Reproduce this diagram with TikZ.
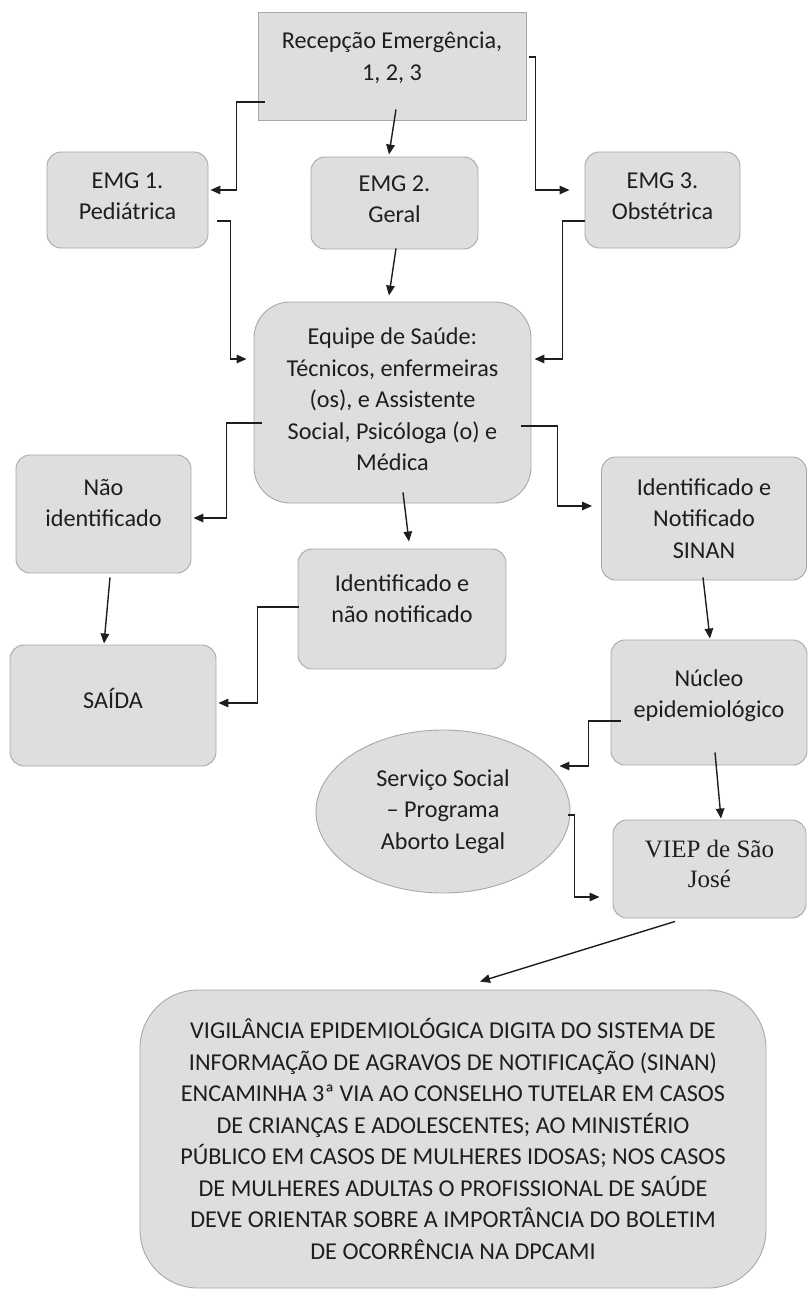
\documentclass[tikz,border=0pt]{standalone}
\usepackage{fontspec}
\setmainfont{Carlito}
\newfontfamily\viepfont{Liberation Serif}
\usepackage{tikz}
\usetikzlibrary{shapes.geometric, arrows.meta, positioning, calc}
\definecolor{boxfill}{HTML}{DEDEDE}
\definecolor{boxline}{HTML}{A8A8A8}
\definecolor{inkdark}{HTML}{1E1E1E}

\begin{document}
\begin{tikzpicture}[x=1pt, y=-1pt,
    flowbox/.style={rectangle, rounded corners=14pt, draw=boxline, fill=boxfill, line width=0.9pt,
                    align=center, text=inkdark, font=\fontsize{24.2}{31.5}\selectfont, inner sep=2pt},
    lift/.style={text depth=#1},
    flowarrow/.style={-{Triangle[length=10pt, width=8.5pt]}, line width=1.4pt, color=inkdark}]
  \useasboundingbox (0,0) rectangle (808,1298);

  % ===== Top: reception and the three emergency rooms =====
  \node[flowbox, rounded corners=0pt, lift=20pt, minimum width=268pt, minimum height=108pt] (rec) at (392,66)
        {Recepção Emergência,\\1, 2, 3};
  \node[flowbox, lift=8pt, minimum width=161pt, minimum height=96pt] (emg1) at (127.5,200) {EMG 1.\\Pediátrica};
  \node[flowbox, lift=8pt, minimum width=167pt, minimum height=92pt] (emg2) at (394.5,203) {EMG 2.\\Geral};
  \node[flowbox, lift=8pt, minimum width=155pt, minimum height=96pt] (emg3) at (662.5,200) {EMG 3.\\Obstétrica};

  % ===== Middle: health team and outcomes =====
  \node[flowbox, rounded corners=36pt, lift=6pt, minimum width=277pt, minimum height=201pt] (equipe) at (392.5,402.5)
        {Equipe de Saúde:\\Técnicos, enfermeiras\\(os), e Assistente\\Social, Psicóloga (o) e\\Médica};
  \node[flowbox, lift=22pt, minimum width=175pt, minimum height=118pt] (naoid) at (103.5,514) {Não\\identificado};
  \node[flowbox, lift=21pt, minimum width=208pt, minimum height=120pt] (idnao) at (402,609) {Identificado e\\não notificado};
  \node[flowbox, minimum width=205pt, minimum height=123pt] (idnot) at (704,518.5)
        {Identificado e\\Notificado\\SINAN};
  \node[flowbox, lift=14pt, minimum width=206pt, minimum height=121pt] (saida) at (113,705.5) {SAÍDA};
  \node[flowbox, lift=18pt, minimum width=196pt, minimum height=125pt] (nucleo) at (709,702.5) {Núcleo\\epidemiológico};

  % ===== Lower right: social service and VIEP =====
  \node[flowbox, ellipse, minimum width=254pt, minimum height=163pt] (servico) at (443,811.5)
        {Serviço Social\\– Programa\\Aborto Legal};
  \node[flowbox, font=\viepfont\fontsize{25}{30}\selectfont, lift=10pt, minimum width=193pt, minimum height=98pt] (viep)
        at (709.5,869) {VIEP de São\\José};

  % ===== Bottom: surveillance note =====
  \node[flowbox, rounded corners=58pt, minimum width=626pt, minimum height=298pt] (vigilancia) at (453,1139)
        {VIGILÂNCIA EPIDEMIOLÓGICA DIGITA DO SISTEMA DE\\
         INFORMAÇÃO DE AGRAVOS DE NOTIFICAÇÃO (SINAN)\\
         ENCAMINHA 3ª VIA AO CONSELHO TUTELAR EM CASOS\\
         DE CRIANÇAS E ADOLESCENTES; AO MINISTÉRIO\\
         PÚBLICO EM CASOS DE MULHERES IDOSAS; NOS CASOS\\
         DE MULHERES ADULTAS O PROFISSIONAL DE SAÚDE\\
         DEVE ORIENTAR SOBRE A IMPORTÂNCIA DO BOLETIM\\
         DE OCORRÊNCIA NA DPCAMI};

  % ===== Connectors =====
  \draw[flowarrow] ([shift={(7,36)}]rec.west) -- ++(-28,0) |- ([shift={(2,-10)}]emg1.east);
  \draw[flowarrow] ([shift={(4,-11)}]rec.south) -- ([shift={(-5.5,-2)}]emg2.north);
  \draw[flowarrow] ([shift={(3,-9)}]rec.east) -- ++(6,0) |- ([shift={(-15,-10)}]emg3.west);

  \draw[flowarrow] ([shift={(9,21)}]emg1.east) -- ++(13,0) |- ([shift={(-7,-43.5)}]equipe.west);
  \draw[flowarrow] ([shift={(1.5,-1)}]emg2.south) -- ([shift={(-3.5,-6)}]equipe.north);
  \draw[flowarrow] ([shift={(0,21)}]emg3.west) -- ++(-22,0) |- ([shift={(3,-43.5)}]equipe.east);

  \draw[flowarrow] ([shift={(8,20.5)}]equipe.west) -- ++(-35,0) |- ([shift={(2,4)}]naoid.east);
  \draw[flowarrow] ([shift={(10.5,-11)}]equipe.south) -- ([shift={(7,-7)}]idnao.north);
  \draw[flowarrow] ([shift={(-10,23.5)}]equipe.east) -- ++(36,0) |- ([shift={(-9,-12.5)}]idnot.west);

  \draw[flowarrow] ([shift={(6.5,4)}]naoid.south) -- ([shift={(-9,-1)}]saida.north);
  \draw[flowarrow] ([shift={(1,-2)}]idnao.west) -- ++(-41,0) |- ([shift={(2,-2.5)}]saida.east);
  \draw[flowarrow] ([shift={(-1,-3)}]idnot.south) -- ([shift={(1,-1)}]nucleo.north);

  \draw[flowarrow] ([shift={(10,18.5)}]nucleo.west) -- ++(-32,0) |- ([shift={(-11,-45.5)}]servico.east);
  \draw[flowarrow] ([shift={(6,-13)}]nucleo.south) -- ([shift={(11.5,-1)}]viep.north);
  \draw[flowarrow] ([shift={(-2,3.5)}]servico.east) -- ++(6,0) |- ([shift={(-13,28)}]viep.west);
  \draw[flowarrow] ([shift={(-34.5,3)}]viep.south) -- ([shift={(27,-8)}]vigilancia.north);
\end{tikzpicture}
\end{document}
